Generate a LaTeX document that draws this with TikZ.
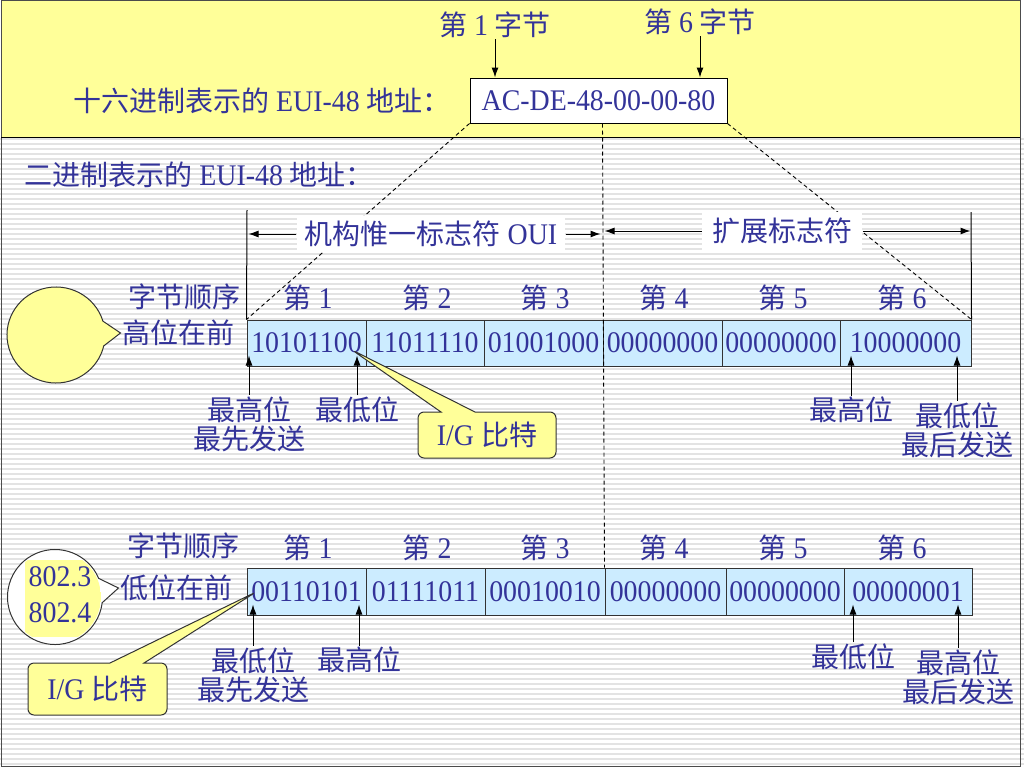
\documentclass[tikz,border=0pt]{standalone}
\usepackage{fontspec}
\setmainfont{Liberation Serif}[Scale=1.07, FakeStretch=0.93]
\newfontfamily\cjk{Noto Sans CJK SC}
\usetikzlibrary{positioning, calc, shapes.callouts, arrows.meta}
\definecolor{navy}{RGB}{51,51,153}
\definecolor{paleyellow}{RGB}{255,255,153}
\definecolor{cellblue}{RGB}{204,236,255}
\newcommand{\zh}[1]{{\cjk #1}}

\begin{document}
\begin{tikzpicture}[x=1pt, y=-1pt, line width=1pt,
  >={Latex[length=10pt, width=7pt]},
  font=\fontsize{28}{29}\selectfont,
  every node/.style={text=navy, inner sep=1pt},
  cell/.style={draw=black!80, fill=cellblue, minimum height=46pt, inner sep=0pt},
  guide/.style={dash pattern=on 4pt off 3pt, line width=0.9pt},
  bubble/.style={ellipse callout, draw=black!80, callout pointer arc=30},
  tag/.style={rectangle callout, draw=black!80, fill=paleyellow, rounded corners=6pt,
    callout pointer width=34pt, minimum width=138pt, minimum height=46pt},
  bitarrow/.style={->, shorten >=-11pt}]

  % background
  \useasboundingbox (0,0) rectangle (1024,768);
  \fill[white] (0,0) rectangle (1024,768);
  \foreach \y in {139,144,...,767}
    \draw[black!11, line width=2pt] (0,\y) -- (1024,\y);
  \fill[paleyellow] (1,1) rectangle (1020,137);
  \draw[black!70] (1,1) rectangle (1020,766);
  \draw (1,137) -- (1020,137);

  % hex address
  \node (hexlabel) at (262,101) {\zh{十六进制表示的} EUI-48 \zh{地址：}};
  \node[draw, fill=white, minimum width=257pt, minimum height=45pt] (hexbox) at (598.5,100.5) {AC-DE-48-00-00-80};
  \node (byte1) at (495,25) {\zh{第} 1 \zh{字节}};
  \node (byte6) at (700,22) {\zh{第} 6 \zh{字节}};
  \draw[->] (byte1.south) -- (byte1.south |- hexbox.north);
  \draw[->] (byte6.south) -- (byte6.south |- hexbox.north);

  \node[anchor=west] (binlabel) at (23,175) {\zh{二进制表示的} EUI-48 \zh{地址：}};

  % high order first
  \node (ord1) at (184,297) {\zh{字节顺序}};
  \node (hifirst) at (178,333) {\zh{高位在前}};
  \foreach \n/\x/\w/\b in {1/306.5/119/10101100, 2/425/118/11011110, 3/543.5/119/01001000,
                           4/662.5/119/00000000, 5/781/118/00000000, 6/905.5/131/10000000}
    \node[cell, minimum width=\w pt] (hi\n) at (\x,343) {\b\hspace{7pt}};

  % low order first
  \node (ord2) at (183,546) {\zh{字节顺序}};
  \node (lofirst) at (176,588) {\zh{低位在前}};
  \foreach \n/\x/\w/\b in {1/306.5/119/00110101, 2/425.5/119/01111011, 3/545/120/00010010,
                           4/665.5/121/00000000, 5/785/118/00000000, 6/908/128/00000001}
    \node[cell, minimum width=\w pt, minimum height=47pt] (lo\n) at (\x,591.5) {\b\hspace{7pt}};

  \foreach \n/\x in {1/308, 2/427, 3/545, 4/664, 5/783, 6/902} {
    \node (hd\n) at (\x,298) {\zh{第} \n};
    \node (ld\n) at (\x,548) {\zh{第} \n};
  }

  % guides from the hex box
  \draw[guide] (hexbox.south west) -- (hi1.north west);
  \draw[guide] (hexbox.south east) -- (hi6.north east);
  \draw[guide] (hexbox.south -| hi4.west) -- (lo4.north west);

  \coordinate (ouiTop) at (247,210);
  \coordinate (extTop) at (971,212);
  \draw (ouiTop) -- (hi1.north west);
  \draw (extTop) -- (hi6.north east);
  \node[fill=white, inner xsep=8pt, inner ysep=5pt] (oui) at (431,234) {\zh{机构惟一标志符} OUI};
  \node[fill=white, inner xsep=10pt, inner ysep=6pt] (ext) at (782,231) {\zh{扩展标志符}};
  \draw[->, shorten >=2pt] (oui.west) -- (oui.west -| hi1.west);
  \draw[->, shorten >=2pt] (oui.east) -- (oui.east -| hi4.west);
  \draw[->, shorten >=2pt] (ext.west) -- (ext.west -| hi4.west);
  \draw[->, shorten >=1pt] (ext.east) -- (ext.east -| hi6.east);

  % bubbles
  \node[bubble, fill=paleyellow, minimum width=98pt, minimum height=96pt,
    callout absolute pointer={(hifirst.west)}] (bub1) at (56,335) {};
  \node[bubble, fill=white, minimum width=95pt, minimum height=95pt,
    callout absolute pointer={(lofirst.west)}] (bub2) at (55,597) {};
  \begin{scope}
    \clip (bub2.center) circle (46pt);
    \fill[paleyellow] (25,560) rectangle (101,637);
  \end{scope}
  \node[align=center] (std) at (60,595) {802.3\\[7pt]802.4};

  % I/G bit
  \coordinate (igbit1) at (352,350);
  \coordinate (igbit2) at (256,592);
  \node[tag, callout absolute pointer={(igbit1)}] (ig1) at (487,435) {I/G \zh{比特}};
  \node[tag, minimum width=139pt, minimum height=52pt,
    callout absolute pointer={(igbit2)}] (ig2) at (97.5,689) {I/G \zh{比特}};

  % bit order arrows
  \node[align=center] (msbA) at (249,424) {\zh{最高位}\\\zh{最先发送}};
  \node (lsbA) at (357,410) {\zh{最低位}};
  \node (msbB) at (851,410) {\zh{最高位}};
  \node[align=center] (lsbB) at (957,430) {\zh{最低位}\\\zh{最后发送}};
  \draw[bitarrow] (msbA.north) -- (msbA.north |- hi1.south);
  \draw[bitarrow] (lsbA.north) -- (lsbA.north |- hi1.south);
  \draw[bitarrow] (msbB.north) -- (msbB.north |- hi6.south);
  \draw[bitarrow] (lsbB.north) -- (lsbB.north |- hi6.south);

  \node[align=center] (lsbC) at (253,675) {\zh{最低位}\\\zh{最先发送}};
  \node (msbC) at (359,660) {\zh{最高位}};
  \node (lsbD) at (853,657) {\zh{最低位}};
  \node[align=center] (msbD) at (958,677) {\zh{最高位}\\\zh{最后发送}};
  \draw[bitarrow] (lsbC.north) -- (lsbC.north |- lo1.south);
  \draw[bitarrow] (msbC.north) -- (msbC.north |- lo1.south);
  \draw[bitarrow] (lsbD.north) -- (lsbD.north |- lo6.south);
  \draw[bitarrow] (msbD.north) -- (msbD.north |- lo6.south);
\end{tikzpicture}
\end{document}
